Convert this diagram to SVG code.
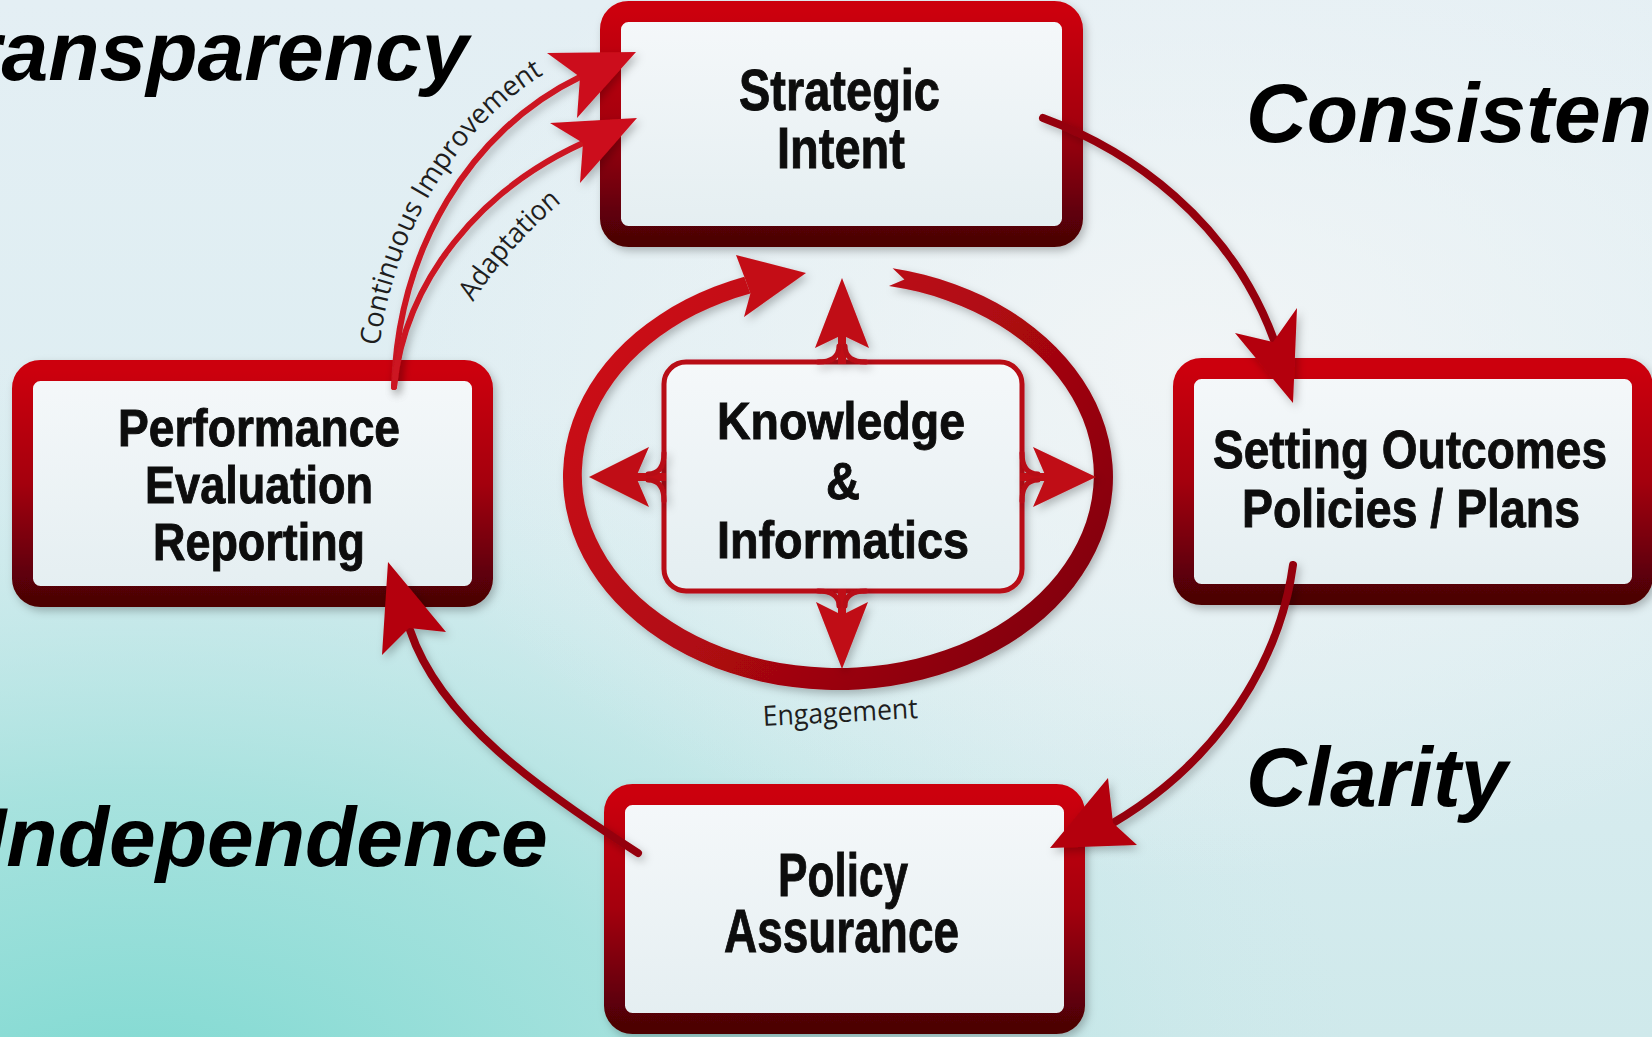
<svg xmlns="http://www.w3.org/2000/svg" width="1652" height="1037" viewBox="0 0 1652 1037">
<defs>
<style>
.bt{font-family:"Liberation Sans",Arial,sans-serif;font-weight:bold;fill:#0b0b0b;stroke:#0b0b0b;stroke-width:0.9}
.it{font-family:"Liberation Sans",Arial,sans-serif;font-weight:bold;font-style:italic;font-size:84px;fill:#000}
.lb{font-family:"Open Sans","Noto Sans",sans-serif;font-size:28px;fill:#1e1e1e}
.box{fill:url(#inner);stroke:url(#border);stroke-width:21}
.brace{fill:none;stroke:#b80a14;stroke-width:5;stroke-linecap:round}
.kfill{fill:#c00a14}
.dark{fill:none;stroke:#950010;stroke-width:8;stroke-linecap:round}
.bright{fill:none;stroke:#cc1420;stroke-width:6;stroke-linecap:round}
.ah{fill:#b4000e}
.ahb{fill:#cc101c}
</style>
<linearGradient id="bgv" x1="0" y1="0" x2="0" y2="1">
<stop offset="0" stop-color="#e4eff4"/>
<stop offset="0.6" stop-color="#dbedf1"/>
<stop offset="1" stop-color="#cfe9eb"/>
</linearGradient>
<radialGradient id="bgc" cx="0.08" cy="1.1" r="0.75">
<stop offset="0" stop-color="#78d8cf" stop-opacity="1"/>
<stop offset="0.45" stop-color="#98dfd9" stop-opacity="0.75"/>
<stop offset="1" stop-color="#c8e8ea" stop-opacity="0"/>
</radialGradient>
<radialGradient id="bgw" cx="0.72" cy="0.35" r="0.5">
<stop offset="0" stop-color="#f4f6f7" stop-opacity="0.85"/>
<stop offset="1" stop-color="#f4f6f7" stop-opacity="0"/>
</radialGradient>
<linearGradient id="border" x1="0" y1="0" x2="0" y2="1">
<stop offset="0" stop-color="#cc000c"/>
<stop offset="0.5" stop-color="#a4000c"/>
<stop offset="1" stop-color="#4e0006"/>
</linearGradient>
<linearGradient id="inner" x1="0" y1="0" x2="0" y2="1">
<stop offset="0" stop-color="#f5f8fa"/>
<stop offset="1" stop-color="#e4eef1"/>
</linearGradient>
<linearGradient id="ringg" gradientUnits="userSpaceOnUse" x1="600" y1="270" x2="1080" y2="690">
<stop offset="0" stop-color="#d0101a"/>
<stop offset="0.5" stop-color="#b00812"/>
<stop offset="1" stop-color="#780008"/>
</linearGradient>
<filter id="sh" x="-10%" y="-10%" width="120%" height="120%">
<feDropShadow dx="3" dy="4" stdDeviation="4" flood-color="#000" flood-opacity="0.25"/>
</filter>
<path id="p1" d="M376,387 C380,247 457,113 572,59"/>
<path id="p2" d="M473,302 Q510,245 562,202"/>
</defs>

<g id="background">
<rect width="1652" height="1037" fill="url(#bgv)"/>
<rect width="1652" height="1037" fill="url(#bgc)"/>
<rect width="1652" height="1037" fill="url(#bgw)"/>
</g>

<g id="themes">
<text class="it" x="-81" y="80">Transparency</text>
<text class="it" x="1246" y="142">Consistency</text>
<text class="it" x="1246" y="806">Clarity</text>
<text class="it" x="-17" y="866">Independence</text>
</g>

<g id="node-strategic" filter="url(#sh)">
<rect class="box" x="610.5" y="11.5" width="462" height="225" rx="18"/>
<text class="bt" x="739" y="110" font-size="58" textLength="201" lengthAdjust="spacingAndGlyphs">Strategic</text>
<text class="bt" x="777" y="168" font-size="58" textLength="128" lengthAdjust="spacingAndGlyphs">Intent</text>
</g>

<g id="node-setting" filter="url(#sh)">
<rect class="box" x="1183.5" y="368.5" width="459" height="226" rx="18"/>
<text class="bt" x="1213" y="468" font-size="54" textLength="394" lengthAdjust="spacingAndGlyphs">Setting Outcomes</text>
<text class="bt" x="1242" y="527" font-size="54" textLength="338" lengthAdjust="spacingAndGlyphs">Policies / Plans</text>
</g>

<g id="node-performance" filter="url(#sh)">
<rect class="box" x="22.5" y="370.5" width="460" height="226" rx="18"/>
<text class="bt" x="118" y="446" font-size="51" textLength="282" lengthAdjust="spacingAndGlyphs">Performance</text>
<text class="bt" x="145" y="503" font-size="51" textLength="228" lengthAdjust="spacingAndGlyphs">Evaluation</text>
<text class="bt" x="153" y="560" font-size="51" textLength="212" lengthAdjust="spacingAndGlyphs">Reporting</text>
</g>

<g id="node-policy" filter="url(#sh)">
<rect class="box" x="614.5" y="794.5" width="460" height="229" rx="18"/>
<text class="bt" x="778" y="896" font-size="62" textLength="130" lengthAdjust="spacingAndGlyphs">Policy</text>
<text class="bt" x="724" y="952" font-size="62" textLength="235" lengthAdjust="spacingAndGlyphs">Assurance</text>
</g>

<g id="node-knowledge" filter="url(#sh)">
<rect x="664" y="362" width="358" height="229" rx="22" fill="url(#inner)" stroke="#b80a14" stroke-width="5"/>
<text class="bt" x="717" y="439" font-size="52" textLength="248" lengthAdjust="spacingAndGlyphs">Knowledge</text>
<text class="bt" x="826" y="499" font-size="52" textLength="34" lengthAdjust="spacingAndGlyphs">&amp;</text>
<text class="bt" x="717" y="558" font-size="52" textLength="252" lengthAdjust="spacingAndGlyphs">Informatics</text>
</g>

<g id="connectors">
<g id="engagement-cycle" filter="url(#sh)">
<path fill="url(#ringg)" d="M892.6,268.2 A275,213 0 1 1 744.3,276.7 L750.4,293.6 A256,193 0 1 0 889,285.9 L904.4,279.4 Z"/>
<polygon fill="#c40c16" points="744.3,276.7 736,255 806,273 744,317 750.4,293.6"/>
</g>
<g id="knowledge-arrows" filter="url(#sh)">
<rect class="kfill" x="838" y="330" width="8" height="34"/>
<polygon class="kfill" points="842,278 869,348 842,335 815,348"/>
<path class="brace" d="M818,362 Q839,362 839,346 M866,362 Q845,362 845,346"/>
<rect class="kfill" x="838" y="589" width="8" height="28"/>
<polygon class="kfill" points="842,669 868,602 842,615 816,602"/>
<path class="brace" d="M818,591 Q839,591 839,606 M866,591 Q845,591 845,606"/>
<rect class="kfill" x="634" y="473" width="32" height="8"/>
<polygon class="kfill" points="589,477 649,447 636,477 649,507"/>
<path class="brace" d="M664,453 Q664,474 648,474 M664,501 Q664,480 648,480"/>
<rect class="kfill" x="1020" y="473" width="28" height="8"/>
<polygon class="kfill" points="1096,477 1033,447 1046,477 1033,507"/>
<path class="brace" d="M1022,453 Q1022,474 1038,474 M1022,501 Q1022,480 1038,480"/>
</g>
<g id="edge-strategic-setting" filter="url(#sh)">
<path class="dark" d="M1043,118 C1130,150 1230,220 1274,340"/>
<polygon class="ah" points="1293,403 1235,333 1273,342 1297,308"/>
</g>
<g id="edge-setting-policy" filter="url(#sh)">
<path class="dark" d="M1293,565 C1280,660 1220,760 1113,823"/>
<polygon class="ah" points="1050,848 1108,778 1113,823 1137,845"/>
</g>
<g id="edge-policy-performance" filter="url(#sh)">
<path class="dark" d="M638,853 C540,790 440,720 410,630"/>
<polygon class="ah" points="388,562 382,655 409,628 446,632"/>
</g>
<g id="edge-continuous-improvement" filter="url(#sh)">
<path class="bright" d="M394,387 C398,250 470,130 580,77"/>
<polygon class="ahb" points="636,52 547,53 580,77 577,118"/>
</g>
<g id="edge-adaptation" filter="url(#sh)">
<path class="bright" d="M394,387 C405,280 480,190 583,143"/>
<polygon class="ahb" points="637,118 550,123 583,143 580,183"/>
</g>
<text class="lb"><textPath href="#p1" startOffset="41" textLength="328" lengthAdjust="spacingAndGlyphs">Continuous Improvement</textPath></text>
<text class="lb"><textPath href="#p2" startOffset="0" textLength="134" lengthAdjust="spacingAndGlyphs">Adaptation</textPath></text>
<text class="lb" x="763" y="722" font-size="26" textLength="155" lengthAdjust="spacingAndGlyphs" transform="rotate(-3 841 718)">Engagement</text>
</g>
</svg>
